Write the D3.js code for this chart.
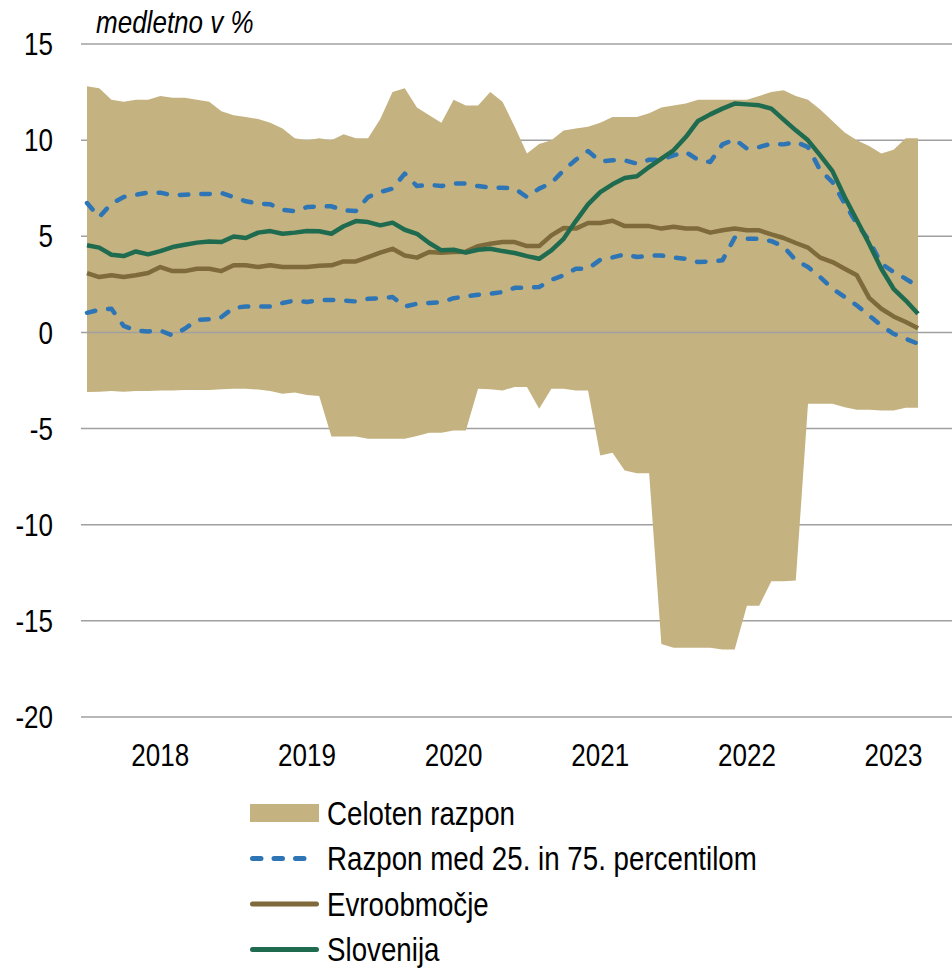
<!DOCTYPE html>
<html lang="sl">

<head>
  <meta charset="UTF-8">
  <title>Inflacija - razpon</title>
  <style>
    body {
      margin: 0;
      background: #fff;
    }

    svg {
      display: block;
      font-family: "Liberation Sans", Arial, sans-serif;
    }
  </style>
</head>

<body>
  <svg id="svg" width="952" height="970"></svg>

  <script src="https://d3js.org/d3.v7.min.js"></script>
  <script>
    // mesečni podatki, julij 2017 - marec 2023
    var months = [
      "2017-07", "2017-08", "2017-09", "2017-10", "2017-11", "2017-12",
      "2018-01", "2018-02", "2018-03", "2018-04", "2018-05", "2018-06",
      "2018-07", "2018-08", "2018-09", "2018-10", "2018-11", "2018-12",
      "2019-01", "2019-02", "2019-03", "2019-04", "2019-05", "2019-06",
      "2019-07", "2019-08", "2019-09", "2019-10", "2019-11", "2019-12",
      "2020-01", "2020-02", "2020-03", "2020-04", "2020-05", "2020-06",
      "2020-07", "2020-08", "2020-09", "2020-10", "2020-11", "2020-12",
      "2021-01", "2021-02", "2021-03", "2021-04", "2021-05", "2021-06",
      "2021-07", "2021-08", "2021-09", "2021-10", "2021-11", "2021-12",
      "2022-01", "2022-02", "2022-03", "2022-04", "2022-05", "2022-06",
      "2022-07", "2022-08", "2022-09", "2022-10", "2022-11", "2022-12",
      "2023-01", "2023-02", "2023-03"
    ];

    var razponMax = [
      12.8, 12.7, 12.1, 12.0, 12.1, 12.1, 12.3, 12.2, 12.2, 12.1,
      12.0, 11.5, 11.3, 11.2, 11.1, 10.9, 10.6, 10.1, 10.0, 10.1,
      10.0, 10.3, 10.1, 10.1, 11.1, 12.5, 12.7, 11.7, 11.3, 10.9,
      12.1, 11.8, 11.8, 12.5, 12.0, 10.7, 9.3, 9.8, 10.0, 10.5,
      10.6, 10.7, 10.9, 11.2, 11.2, 11.2, 11.4, 11.7, 11.8, 11.9,
      12.1, 12.1, 12.1, 12.1, 12.1, 12.3, 12.5, 12.6, 12.3, 12.1,
      11.6, 11.0, 10.4, 10.0, 9.7, 9.3, 9.5, 10.1, 10.1
    ];

    var razponMin = [
      -3.1, -3.08, -3.05, -3.08, -3.05, -3.05, -3.02, -3.02, -3.0, -3.0,
      -3.0, -2.95, -2.93, -2.93, -2.97, -3.05, -3.19, -3.12, -3.25, -3.31,
      -5.41, -5.41, -5.41, -5.53, -5.53, -5.53, -5.53, -5.39, -5.22, -5.22,
      -5.1, -5.1, -2.93, -2.95, -3.02, -2.84, -2.84, -3.97, -2.93, -2.93,
      -3.02, -3.02, -6.4, -6.26, -7.18, -7.32, -7.32, -16.2, -16.4, -16.4,
      -16.4, -16.4, -16.49, -16.49, -14.22, -14.22, -12.94, -12.94, -12.9, -3.71,
      -3.71, -3.71, -3.89, -4.02, -4.02, -4.06, -4.06, -3.92, -3.92
    ];

    var p75 = [
      6.73, 6.0, 6.7, 7.04, 7.16, 7.27, 7.27, 7.13, 7.16, 7.2,
      7.2, 7.25, 7.04, 6.82, 6.7, 6.66, 6.38, 6.31, 6.52, 6.55,
      6.56, 6.35, 6.31, 7.04, 7.3, 7.48, 8.26, 7.61, 7.68, 7.61,
      7.74, 7.74, 7.61, 7.53, 7.53, 7.48, 7.04, 7.48, 7.77, 8.43,
      8.98, 9.43, 8.9, 8.95, 8.95, 8.78, 8.98, 8.98, 9.21, 9.38,
      8.98, 8.86, 9.78, 10.04, 9.56, 9.64, 9.82, 9.78, 9.9, 9.64,
      8.43, 7.82, 6.7, 5.65, 4.79, 3.57, 3.14, 2.79, 2.39
    ];

    var p25 = [
      1.02, 1.18, 1.23, 0.34, 0.1, 0.05, 0.1, -0.16, 0.19, 0.66,
      0.68, 0.8, 1.28, 1.35, 1.35, 1.35, 1.53, 1.66, 1.58, 1.69,
      1.69, 1.66, 1.61, 1.75, 1.78, 1.84, 1.35, 1.49, 1.53, 1.58,
      1.78, 1.87, 1.96, 2.01, 2.1, 2.32, 2.32, 2.36, 2.74, 2.97,
      3.31, 3.31, 3.78, 3.9, 4.06, 3.92, 4.0, 4.0, 3.89, 3.83,
      3.66, 3.69, 3.75, 4.93, 4.87, 4.87, 4.75, 4.47, 3.75, 3.4,
      2.88, 2.27, 1.84, 1.4, 0.88, 0.36, -0.07, -0.33, -0.59
    ];

    var evroobmocje = [
      3.09, 2.88, 2.97, 2.88, 2.97, 3.09, 3.4, 3.19, 3.19, 3.31,
      3.31, 3.19, 3.49, 3.49, 3.4, 3.49, 3.4, 3.4, 3.4, 3.47,
      3.49, 3.69, 3.69, 3.92, 4.15, 4.35, 4.0, 3.89, 4.18, 4.15,
      4.18, 4.2, 4.49, 4.61, 4.7, 4.7, 4.49, 4.49, 5.05, 5.43,
      5.4, 5.69, 5.69, 5.81, 5.53, 5.53, 5.53, 5.4, 5.5, 5.4,
      5.4, 5.19, 5.31, 5.4, 5.31, 5.31, 5.1, 4.91, 4.65, 4.41,
      3.89, 3.66, 3.31, 2.97, 1.8, 1.23, 0.83, 0.54, 0.22
    ];

    var slovenija = [
      4.53, 4.41, 4.04, 3.97, 4.21, 4.06, 4.23, 4.44, 4.56, 4.67,
      4.73, 4.7, 4.99, 4.91, 5.19, 5.27, 5.13, 5.19, 5.27, 5.26,
      5.13, 5.52, 5.79, 5.74, 5.57, 5.71, 5.34, 5.13, 4.65, 4.27,
      4.3, 4.15, 4.3, 4.35, 4.23, 4.13, 3.97, 3.83, 4.27, 4.87,
      5.79, 6.66, 7.3, 7.7, 8.03, 8.12, 8.6, 9.04, 9.47, 10.16,
      11.0, 11.34, 11.64, 11.9, 11.86, 11.81, 11.64, 11.07, 10.51, 9.99,
      9.21, 8.39, 7.04, 5.83, 4.61, 3.31, 2.27, 1.66, 0.97
    ];

    var yTicks = [15, 10, 5, 0, -5, -10, -15, -20];
    var yearLabels = ["2018", "2019", "2020", "2021", "2022", "2023"];

    var legendItems = [
      { name: "Celoten razpon", type: "area" },
      { name: "Razpon med 25. in 75. percentilom", type: "dash" },
      { name: "Evroobmočje", type: "euro" },
      { name: "Slovenija", type: "si" }
    ];

    var colors = {
      area: "#c4b280",
      dash: "#2e75b6",
      euro: "#7e6a3a",
      si: "#1f6b4f",
      grid: "#a0a0a0"
    };

    // pisava je ozka (Arial Narrow), zato tekst stisnemo vodoravno
    var narrow = 0.84;

    var svg = d3.select("#svg"),
      gridLeft = 81,
      gridRight = 952;

    var x = d3.scalePoint()
      .domain(months)
      .range([87, 918]);

    var y = d3.scaleLinear()
      .domain([-20, 15])
      .range([717, 44]);

    var data = months.map(function (m, i) {
      return {
        month: m,
        max: razponMax[i],
        min: razponMin[i],
        p75: p75[i],
        p25: p25[i],
        euro: evroobmocje[i],
        si: slovenija[i]
      };
    });

    function narrowText(sel, tx, ty) {
      return sel.attr("transform", function (d, i) {
        return "translate(" + tx(d, i) + "," + ty(d, i) + ") scale(" + narrow + ",1)";
      });
    }

    // mreža (pod ploskvijo)
    svg.append("g")
      .selectAll("line")
      .data(yTicks.filter(function (d) { return d !== 0; }))
      .enter().append("line")
      .attr("x1", gridLeft)
      .attr("x2", gridRight)
      .attr("y1", function (d) { return y(d); })
      .attr("y2", function (d) { return y(d); })
      .attr("stroke", colors.grid)
      .attr("stroke-width", 1.5);

    // celoten razpon
    var area = d3.area()
      .x(function (d) { return x(d.month); })
      .y0(function (d) { return y(d.min); })
      .y1(function (d) { return y(d.max); });

    svg.append("path")
      .datum(data)
      .attr("fill", colors.area)
      .attr("d", area);

    // os pri 0
    svg.append("line")
      .attr("x1", gridLeft)
      .attr("x2", gridRight)
      .attr("y1", y(0))
      .attr("y2", y(0))
      .attr("stroke", colors.grid)
      .attr("stroke-width", 1.5);

    function drawLine(key, color, dashed) {
      var line = d3.line()
        .x(function (d) { return x(d.month); })
        .y(function (d) { return y(d[key]); });

      var p = svg.append("path")
        .datum(data)
        .attr("fill", "none")
        .attr("stroke", color)
        .attr("stroke-width", 4.5)
        .attr("stroke-linejoin", "round")
        .attr("d", line);

      if (dashed) {
        p.attr("stroke-dasharray", "8.5 13")
          .attr("stroke-linecap", "round");
      }
    }

    drawLine("p75", colors.dash, true);
    drawLine("p25", colors.dash, true);
    drawLine("euro", colors.euro, false);
    drawLine("si", colors.si, false);

    // oznake y osi
    svg.append("g")
      .selectAll("text")
      .data(yTicks)
      .enter().append("text")
      .call(narrowText, function () { return 53; }, function (d) { return y(d); })
      .attr("dy", "0.36em")
      .attr("text-anchor", "end")
      .attr("font-size", 31)
      .attr("fill", "#000")
      .text(function (d) { return d; });

    // oznake let
    svg.append("g")
      .selectAll("text")
      .data(yearLabels)
      .enter().append("text")
      .call(narrowText, function (d) { return x(d + "-01"); }, function () { return 766; })
      .attr("text-anchor", "middle")
      .attr("font-size", 31)
      .attr("fill", "#000")
      .text(function (d) { return d; });

    svg.append("text")
      .datum("medletno v %")
      .call(narrowText, function () { return 96; }, function () { return 33; })
      .attr("font-size", 31)
      .attr("font-style", "italic")
      .attr("fill", "#000")
      .text(function (d) { return d; });

    // legenda
    var legend = svg.append("g")
      .selectAll("g")
      .data(legendItems)
      .enter().append("g")
      .attr("transform", function (d, i) {
        return "translate(250," + (813 + i * 45.5) + ")";
      });

    legend.each(function (d) {
      var g = d3.select(this);
      if (d.type === "area") {
        g.append("rect")
          .attr("x", 0)
          .attr("y", -9)
          .attr("width", 69)
          .attr("height", 18)
          .attr("fill", colors.area);
      } else {
        var l = g.append("line")
          .attr("x1", 2.5)
          .attr("x2", 66.5)
          .attr("stroke", colors[d.type])
          .attr("stroke-width", 5)
          .attr("stroke-linecap", "round");
        if (d.type === "dash") l.attr("stroke-dasharray", "8.5 13");
      }
    });

    legend.append("text")
      .call(narrowText, function () { return 77; }, function () { return 0; })
      .attr("dy", "0.35em")
      .attr("font-size", 33)
      .attr("fill", "#000")
      .text(function (d) { return d.name; });
  </script>
</body>

</html>
